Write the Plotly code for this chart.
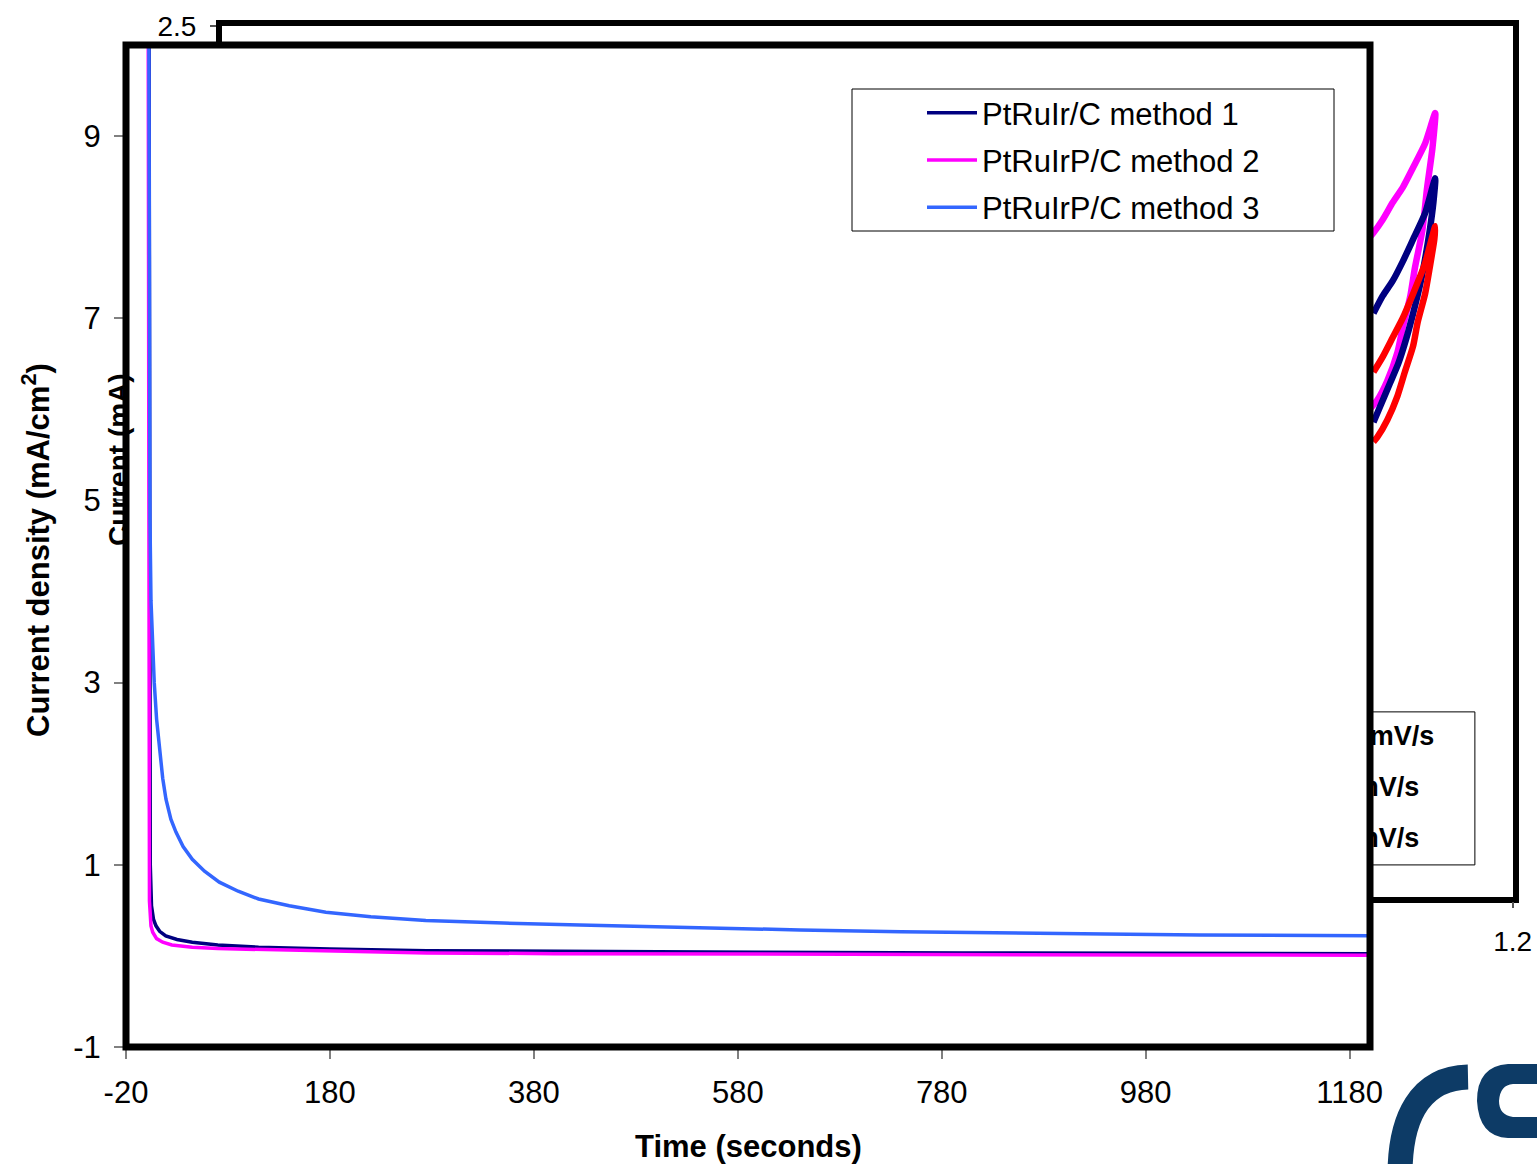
import plotly.graph_objects as go

W, H = 1537, 1164

# ---------------- main chart data (current density vs time) ----------------
t_m1 = [2, 3, 3.8, 5, 7, 9.4, 13, 19, 30, 45, 70, 110, 180, 275, 400, 600, 800, 1000, 1200]
j_m1 = [15, 3.5, 1.0, 0.55, 0.4, 0.33, 0.27, 0.22, 0.18, 0.15, 0.12, 0.095, 0.075, 0.058, 0.048, 0.04, 0.033, 0.028, 0.025]

t_m2 = [1.2, 2.2, 3, 4.5, 6.2, 10, 16, 25, 45, 70, 110, 180, 275, 400, 600, 800, 1000, 1200]
j_m2 = [15, 2.0, 0.6, 0.33, 0.26, 0.19, 0.15, 0.12, 0.095, 0.08, 0.07, 0.05, 0.033, 0.025, 0.018, 0.013, 0.01, 0.008]

t_m3 = [1.5, 2.5, 3.5, 4.5, 6, 7.7, 10, 12.7, 16, 19.2, 24, 29, 36, 45, 57, 71.5, 90, 110, 140, 176,
        220, 274, 350, 425, 530, 641, 740, 837, 940, 1033, 1120, 1200]
j_m3 = [15, 7, 4.8, 3.9, 3.4, 3.0, 2.6, 2.27, 1.95, 1.72, 1.5, 1.36, 1.2, 1.06, 0.93, 0.81, 0.71, 0.625, 0.55, 0.48,
        0.43, 0.39, 0.36, 0.34, 0.31, 0.285, 0.265, 0.25, 0.24, 0.23, 0.225, 0.22]

series_names = ["PtRuIr/C method 1", "PtRuIrP/C method 2", "PtRuIrP/C method 3"]
series_colors = ["#000080", "#FF00FF", "#3366FF"]

x_ticks = [-20, 180, 380, 580, 780, 980, 1180]
x_tick_labels = ["-20", "180", "380", "580", "780", "980", "1180"]
y_ticks = [-1, 1, 3, 5, 7, 9]
y_tick_labels = ["-1", "1", "3", "5", "7", "9"]

# ---------------- background chart data (visible CV fragments) ----------------
bg_v_pink = [1.045, 1.049, 1.059, 1.070, 1.081, 1.092, 1.105, 1.116, 1.113, 1.107, 1.102, 1.094, 1.089, 1.081, 1.075, 1.064, 1.053, 1.045]
bg_i_pink = [1.53, 1.55, 1.61, 1.69, 1.76, 1.85, 1.96, 2.10, 1.94, 1.75, 1.56, 1.39, 1.26, 1.12, 1.00, 0.87, 0.78, 0.74]

bg_v_navy = [1.049, 1.059, 1.070, 1.081, 1.092, 1.105, 1.116, 1.114, 1.110, 1.105, 1.100, 1.092, 1.085, 1.076, 1.067, 1.056, 1.049]
bg_i_navy = [1.18, 1.26, 1.33, 1.42, 1.52, 1.64, 1.80, 1.69, 1.56, 1.43, 1.32, 1.18, 1.07, 0.95, 0.86, 0.75, 0.68]

bg_v_red = [1.049, 1.059, 1.070, 1.081, 1.092, 1.105, 1.116, 1.115, 1.110, 1.105, 1.097, 1.092, 1.083, 1.075, 1.064, 1.053, 1.049]
bg_i_red = [0.91, 0.98, 1.07, 1.16, 1.27, 1.41, 1.58, 1.52, 1.39, 1.27, 1.14, 1.03, 0.91, 0.80, 0.69, 0.61, 0.59]

bg_colors = ["#FF00FF", "#000080", "#FF0000"]
bg_legend_labels = ["100 mV/s", "50 mV/s", "20 mV/s"]

FONT = "Arial, Liberation Sans, sans-serif"


def fx(p):
    return p / W


def fy(p):
    return 1 - p / H


fig = go.Figure()

# background chart traces (subplot xy, drawn first -> lies underneath)
for v, i, c in zip([bg_v_pink, bg_v_navy, bg_v_red], [bg_i_pink, bg_i_navy, bg_i_red], bg_colors):
    fig.add_trace(go.Scatter(x=v, y=i, mode="lines", line=dict(color=c, width=6.5, shape="spline", smoothing=0.6),
                             xaxis="x", yaxis="y", showlegend=False, hoverinfo="skip"))

# background legend texts (mostly hidden behind the main chart)
fig.add_trace(go.Scatter(x=[0.988] * 3, y=[-0.771, -1.005, -1.239], mode="text",
                         text=bg_legend_labels, textposition="middle right",
                         textfont=dict(family=FONT, size=27, color="black", weight="bold"),
                         xaxis="x", yaxis="y", showlegend=False, hoverinfo="skip", cliponaxis=False))

# main chart traces (subplot x2y2, overlapping -> own white background on top)
for t, j, n, c in zip([t_m1, t_m2, t_m3], [j_m1, j_m2, j_m3], series_names, series_colors):
    fig.add_trace(go.Scatter(x=t, y=j, mode="lines", name=n, line=dict(color=c, width=3.5),
                             xaxis="x2", yaxis="y2", legendgroup=n))

main_x0, main_x1, main_y0, main_y1 = 126, 1370, 45, 1047
bg_x0, bg_x1, bg_y0, bg_y1 = 221.7, 1512.7, 26, 896.7

fig.update_layout(
    template="none",
    width=W, height=H,
    margin=dict(l=0, r=0, t=0, b=0, pad=0, autoexpand=False),
    paper_bgcolor="white", plot_bgcolor="white",
    font=dict(family=FONT, color="black"),
    xaxis=dict(domain=[fx(bg_x0), fx(bg_x1)], anchor="y", range=[-0.2, 1.2],
               tick0=-0.2, dtick=0.2, showgrid=False, zeroline=False, automargin=False,
               showline=True, mirror=True, linewidth=5.5, linecolor="black",
               ticks="outside", ticklen=6, tickwidth=1.5, tickcolor="#555",
               tickfont=dict(size=28, family=FONT), ticklabelstandoff=9),
    yaxis=dict(domain=[fy(bg_y1), fy(bg_y0)], anchor="x", range=[-1.5, 2.5],
               tick0=-1.5, dtick=0.5, showgrid=False, zeroline=False, automargin=False,
               showline=True, mirror=True, linewidth=5.5, linecolor="black",
               ticks="outside", ticklen=6, tickwidth=1.5, tickcolor="#555",
               tickfont=dict(size=28, family=FONT), ticklabelstandoff=8),
    xaxis2=dict(domain=[fx(main_x0), fx(main_x1)], anchor="y2", range=[-20, 1200],
                tickmode="array", tickvals=x_ticks, ticktext=x_tick_labels,
                showgrid=False, zeroline=False, automargin=False,
                showline=False, ticks="outside", ticklen=11, tickwidth=2, tickcolor="#808080",
                tickfont=dict(size=31, family=FONT), ticklabelstandoff=7),
    yaxis2=dict(domain=[fy(main_y1), fy(main_y0)], anchor="x2", range=[-1, 10],
                tickmode="array", tickvals=y_ticks, ticktext=y_tick_labels,
                showgrid=False, zeroline=False, automargin=False,
                showline=False, ticks="outside", ticklen=11, tickwidth=2, tickcolor="#808080",
                tickfont=dict(size=31, family=FONT), ticklabelstandoff=7),
    showlegend=True,
    legend=dict(x=fx(922), y=fy(86), xanchor="left", yanchor="top",
                bgcolor="rgba(0,0,0,0)", borderwidth=0,
                font=dict(size=31, family=FONT, color="black"),
                itemwidth=50, traceorder="grouped", tracegroupgap=4),
    shapes=[
        # background legend box (partly hidden)
        dict(type="rect", xref="x", yref="y", x0=0.9, x1=1.159, y0=-1.354, y1=-0.651,
             line=dict(color="black", width=1), fillcolor="rgba(0,0,0,0)", layer="below"),
        # main legend box
        dict(type="rect", xref="paper", yref="paper", x0=fx(852), x1=fx(1334), y0=fy(231), y1=fy(89),
             line=dict(color="black", width=1), fillcolor="rgba(0,0,0,0)", layer="above"),
        # main frame
        dict(type="rect", xref="paper", yref="paper", x0=fx(main_x0), x1=fx(main_x1),
             y0=fy(main_y1), y1=fy(main_y0), line=dict(color="black", width=7),
             fillcolor="rgba(0,0,0,0)", layer="above"),
        # logo fragment (bottom right)
        dict(type="path", xref="paper", yref="paper",
             path=f"M {fx(1468)} {fy(1077)} C {fx(1420)} {fy(1078)} {fx(1400)} {fy(1118)} {fx(1400)} {fy(1175)}",
             line=dict(color="#0D3B66", width=25), fillcolor="rgba(0,0,0,0)", layer="above"),
        dict(type="path", xref="paper", yref="paper",
             path=(f"M {fx(1545)} {fy(1064)} L {fx(1508)} {fy(1064)} "
                   f"Q {fx(1477)} {fy(1066)} {fx(1477)} {fy(1101)} "
                   f"Q {fx(1479)} {fy(1137)} {fx(1508)} {fy(1138)} L {fx(1545)} {fy(1138)} "
                   f"L {fx(1545)} {fy(1117)} L {fx(1513)} {fy(1117)} "
                   f"Q {fx(1499)} {fy(1115)} {fx(1499)} {fy(1101)} "
                   f"Q {fx(1500)} {fy(1085)} {fx(1513)} {fy(1084)} L {fx(1545)} {fy(1084)} Z"),
             line=dict(color="#0D3B66", width=0), fillcolor="#0D3B66", layer="above"),
    ],
    annotations=[
        dict(text="<b>Time (seconds)</b>", xref="paper", yref="paper", x=fx(748), y=fy(1146),
             showarrow=False, xanchor="center", yanchor="middle", font=dict(size=31, family=FONT)),
        dict(text="<b>Current density (mA/cm<sup>2</sup>)</b>", xref="paper", yref="paper",
             x=fx(36), y=fy(550), textangle=-90, showarrow=False, xanchor="center", yanchor="middle",
             font=dict(size=31, family=FONT)),
        dict(text="<b>Current (mA)</b>", xref="paper", yref="paper",
             x=fx(119), y=fy(460), textangle=-90, showarrow=False, xanchor="center", yanchor="middle",
             font=dict(size=28, family=FONT)),
    ],
)

fig.write_html("out.html", config={"displayModeBar": False},
               post_script="document.body.style.margin='0';document.body.style.overflow='hidden';")
